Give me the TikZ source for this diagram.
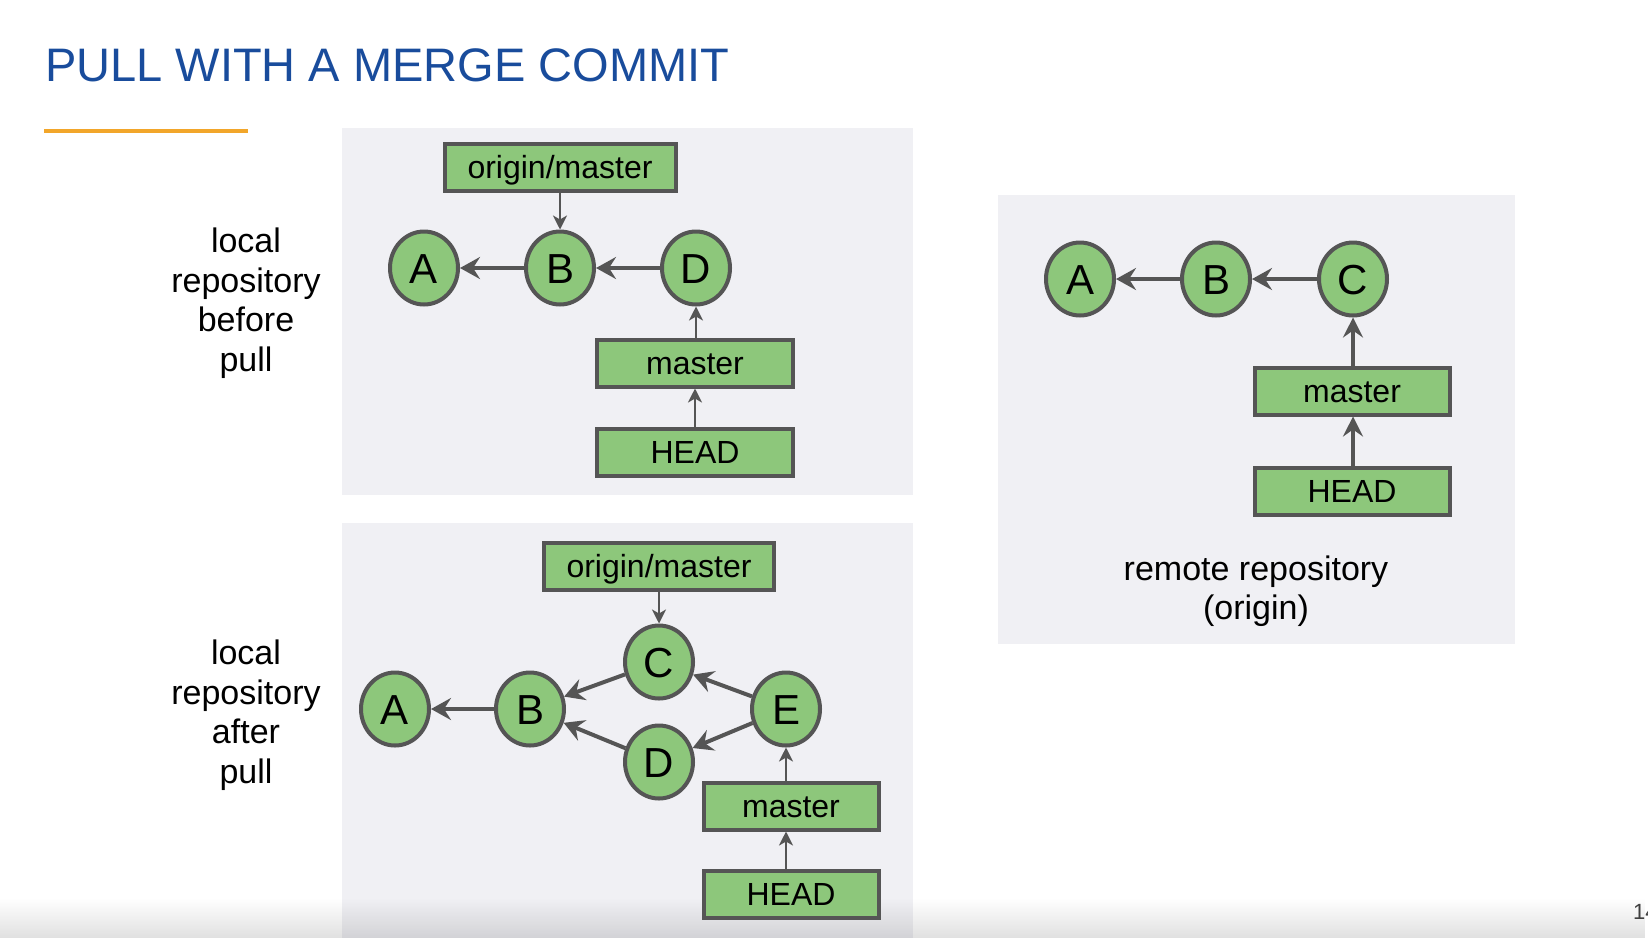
\documentclass[tikz,border=0pt]{standalone}
\usepackage{fontspec}
\setmainfont{Liberation Sans}
\usetikzlibrary{arrows.meta,shapes.geometric,fadings}
\definecolor{titleblue}{HTML}{194C9C}
\definecolor{accent}{HTML}{F2A62A}
\definecolor{panelbg}{HTML}{F0F0F4}
\definecolor{nodefill}{HTML}{8DC77B}
\definecolor{edgegrey}{HTML}{555555}
\tikzfading[name=footfade, top color=transparent!100, bottom color=transparent!0]

\begin{document}
\begin{tikzpicture}[x=1pt,y=-1pt,
  commit/.style={ellipse, draw=edgegrey, fill=nodefill, line width=4,
    minimum width=68, minimum height=73, inner sep=0,
    text height=30, text depth=0, font=\fontsize{42}{42}\selectfont},
  ref/.style={rectangle, draw=edgegrey, fill=nodefill, line width=4,
    minimum height=47, inner sep=0,
    text height=23, text depth=0, font=\fontsize{32}{32}\selectfont},
  parentarrow/.style={draw=edgegrey, line width=4,
    -{Stealth[length=20, width=22, inset=7]}},
  thinarrow/.style={draw=edgegrey, line width=2.5,
    -{Stealth[length=14, width=14, inset=4]}},
  thickarrow/.style={draw=edgegrey, line width=4,
    -{Stealth[length=20, width=20, inset=7]}},
  sidelabel/.style={align=center, font=\fontsize{34}{39.5}\selectfont},
  panel/.style={fill=panelbg, draw=none},
]
% page frame
\useasboundingbox (0,0) rectangle (1648,938);
\fill[white] (0,0) rectangle (1648,938);

% panels
\path[panel] (342,128) rectangle (913,495);
\path[panel] (342,523) rectangle (913,938);
\path[panel] (998,195) rectangle (1515,644);

% soft footer band
\fill[black, opacity=0.12, path fading=footfade] (0,898) rectangle (1648,938);

% heading
\node[anchor=base west, inner sep=0, text=titleblue, font=\fontsize{47}{47}\selectfont]
  (title) at (45,81) {PULL WITH A MERGE COMMIT};
\draw[accent, line width=4] (44,131) -- (248,131);

% side labels
\node[sidelabel] (lblbefore) at (246,303) {local\\repository\\before\\pull};
\node[sidelabel] (lblafter) at (246,715) {local\\repository\\after\\pull};

% local repository before pull
\node[ref, minimum width=231] (om1) at (560,167) {origin/master};
\node[commit] (A1) at (424,268) {A};
\node[commit] (B1) at (560,268) {B};
\node[commit] (D1) at (696,268) {D};
\node[ref, minimum width=196] (master1) at (695,363) {master};
\node[ref, minimum width=196] (head1) at (695,452) {HEAD};
\draw[parentarrow] (B1) -- (A1);
\draw[parentarrow] (D1) -- (B1);
\draw[thinarrow] (om1.south -| B1.north) -- (B1.north);
\draw[thinarrow] (master1.north -| D1.south) -- (D1.south);
\draw[thinarrow] (head1.north -| master1.south) -- (master1.south);

% local repository after pull
\node[ref, minimum width=230] (om2) at (659,566) {origin/master};
\node[commit] (A2) at (395,709) {A};
\node[commit] (B2) at (530,709) {B};
\node[commit] (C2) at (659,662) {C};
\node[commit] (D2) at (659,762) {D};
\node[commit] (E2) at (786,709) {E};
\node[ref, minimum width=175] (master2) at (791,806) {master};
\node[ref, minimum width=175] (head2) at (791,894) {HEAD};
\draw[parentarrow] (B2) -- (A2);
\draw[parentarrow] (C2) -- (B2);
\draw[parentarrow] (D2) -- (B2);
\draw[parentarrow] (E2) -- (C2);
\draw[parentarrow] (E2) -- (D2);
\draw[thinarrow] (om2.south -| C2.north) -- (C2.north);
\draw[thinarrow] (master2.north -| E2.south) -- (E2.south);
\draw[thinarrow] (head2.north -| E2.south) -- (master2.south -| E2.south);

% remote repository
\node[commit] (A3) at (1080,279) {A};
\node[commit] (B3) at (1216,279) {B};
\node[commit] (C3) at (1353,279) {C};
\node[ref, minimum width=195] (master3) at (1352,391) {master};
\node[ref, minimum width=195] (head3) at (1352,491) {HEAD};
\draw[parentarrow] (B3) -- (A3);
\draw[parentarrow] (C3) -- (B3);
\draw[thickarrow] (master3.north -| C3.south) -- (C3.south);
\draw[thickarrow] (head3.north -| C3.south) -- (master3.south -| C3.south);
\node[sidelabel] (lblremote) at (1256,591) {remote repository\\(origin)};

% slide number, partly beyond the right edge
\node[anchor=base west, inner sep=0, text=black!75, font=\fontsize{22}{22}\selectfont]
  (pagenum) at (1633,919) {14};
\end{tikzpicture}
\end{document}
